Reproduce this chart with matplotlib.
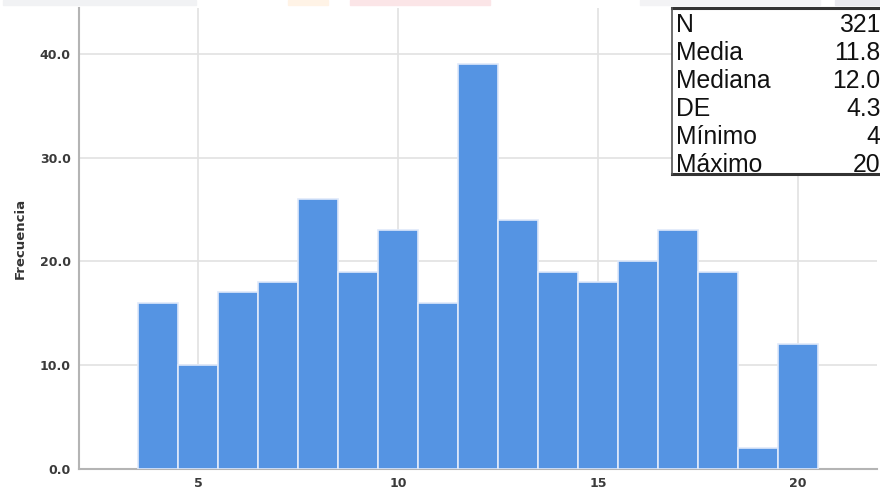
import matplotlib
matplotlib.use("Agg")
import matplotlib.pyplot as plt
from matplotlib.patches import Rectangle

plt.rcParams['font.family'] = ['Liberation Sans', 'DejaVu Sans']

values = [4, 5, 6, 7, 8, 9, 10, 11, 12, 13, 14, 15, 16, 17, 18, 19, 20]
counts = [16, 10, 17, 18, 26, 19, 23, 16, 39, 24, 19, 18, 20, 23, 19, 2, 12]
xticks = [5, 10, 15, 20]
yticks = [0, 10, 20, 30, 40]
stat_names = ["N", "Media", "Mediana", "DE", "Mínimo", "Máximo"]
stat_values = ["321", "11.8", "12.0", "4.3", "4", "20"]

W, H = 880, 493
fig = plt.figure(figsize=(W / 100, H / 100), dpi=100)
ax = fig.add_axes([79 / W, (H - 469) / H, (877 - 79) / W, (469 - 8) / H])

ax.bar(values, counts, width=1.0, color="#5594e3", edgecolor="#dfe9fa",
       linewidth=1.2, zorder=3)

ax.set_xlim(2.02, 21.98)
ax.set_ylim(0, 44.4)
ax.set_xticks(xticks)
ax.set_yticks(yticks)
ax.set_yticklabels([f"{v:.1f}" for v in yticks])
ax.grid(True, color="#e2e2e2", linewidth=1.2, zorder=0)
ax.tick_params(length=0, labelsize=9, colors="#3a3a3a", pad=6)
for lab in ax.get_xticklabels() + ax.get_yticklabels():
    lab.set_fontweight("bold")
    lab.set_family("DejaVu Sans")
for s in ["top", "right"]:
    ax.spines[s].set_visible(False)
for s in ["left", "bottom"]:
    ax.spines[s].set_color("#b4b4b4")
    ax.spines[s].set_linewidth(1.5)
ax.set_ylabel("Frecuencia", fontsize=9.5, fontweight="bold", color="#333333",
              family="DejaVu Sans", labelpad=9)

# faint strips at the top of the screenshot
for x0, x1, c in [(3, 196, "#f1f2f4"), (288, 328, "#fff3e6"),
                  (350, 490, "#fbe5e7"), (640, 820, "#f3f3f5"), (835, 880, "#e9e9ee")]:
    fig.patches.append(Rectangle((x0 / W, (H - 5) / H), (x1 - x0) / W, 5 / H,
                                 transform=fig.transFigure, color=c, zorder=0))

# statistics box
bx0, by0, by1 = 672, 8, 174
fig.patches.append(Rectangle((bx0 / W, (H - by1) / H), (W - bx0) / W, (by1 - by0) / H,
                             transform=fig.transFigure, facecolor="white",
                             edgecolor="none", zorder=5))
fig.add_artist(plt.Line2D([bx0 / W, 1], [(H - by0) / H] * 2, color="#333333", lw=2.2, zorder=6))
fig.add_artist(plt.Line2D([bx0 / W, 1], [(H - by1) / H] * 2, color="#333333", lw=2.2, zorder=6))
fig.add_artist(plt.Line2D([bx0 / W, bx0 / W], [(H - by1) / H, (H - by0) / H], color="#555555", lw=1.2, zorder=6))
for i, (name, val) in enumerate(zip(stat_names, stat_values)):
    y = 32 + 28 * i
    fig.text(676 / W, (H - y) / H, name, fontsize=17.8, color="#111111", va="baseline", ha="left", zorder=7)
    fig.text(880.5 / W, (H - y) / H, val, fontsize=17.8, color="#111111", va="baseline", ha="right", zorder=7)

fig.savefig("out.png", dpi=100)
